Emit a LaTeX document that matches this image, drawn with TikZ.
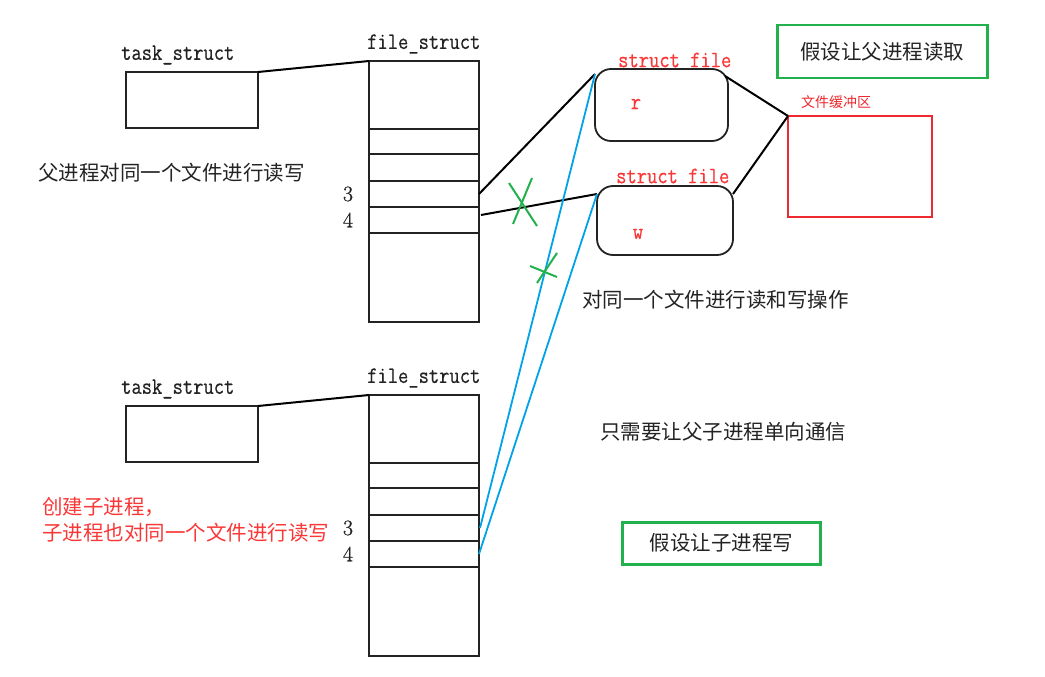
\documentclass[tikz,border=0pt]{standalone}
\usepackage{fontspec}
\newfontfamily\cjk{Noto Sans CJK SC}
\newfontfamily\monof{Latin Modern Mono}[FakeStretch=0.85, FakeBold=0.5]
\newfontfamily\numf{Latin Modern Roman}[FakeBold=0.8]
\usetikzlibrary{calc}
\definecolor{pgreen}{RGB}{34,177,76}
\definecolor{pblue}{RGB}{0,162,232}
\definecolor{pred}{RGB}{237,40,46}
\definecolor{tred}{RGB}{250,55,55}
\definecolor{ink}{RGB}{35,35,35}
\newcommand\fstruct[2]{%
  \node[box, minimum width=110, minimum height=68] (#1a) at (369,#2) {};
  \node[box, minimum width=110, minimum height=25] (#1b) at (369,{#2+68}) {};
  \node[box, minimum width=110, minimum height=27] (#1c) at (369,{#2+93}) {};
  \node[box, minimum width=110, minimum height=26] (#1d) at (369,{#2+120}) {};
  \node[box, minimum width=110, minimum height=26] (#1e) at (369,{#2+146}) {};
  \node[box, minimum width=110, minimum height=89] (#1f) at (369,{#2+172}) {};
  \node[num] (#1n3) at (348,{#2+133}) {3};
  \node[num] (#1n4) at (348,{#2+159}) {4};
  \node[mono, anchor=west] (#1lab) at (367,{#2-17}) {file\_struct};
}
\begin{document}
\begin{tikzpicture}[x=1pt,y=-1pt,
  box/.style={draw=ink, line width=1.3pt, inner sep=0pt, outer sep=0pt, anchor=north west},
  conn/.style={line width=2pt, black},
  bluel/.style={pblue, line width=1.8pt},
  cross/.style={pgreen, line width=2pt},
  cjkt/.style={font=\cjk\fontsize{20.5}{24}\selectfont, text=ink, inner sep=0pt},
  mono/.style={font=\monof\fontsize{23.5}{26}\selectfont, text=ink, inner sep=0pt},
  num/.style={font=\numf\fontsize{22}{24}\selectfont, text=ink, inner sep=0pt},
  gbox/.style={draw=pgreen, line width=2.5pt, inner sep=0pt, anchor=north west, font=\cjk\fontsize{20.5}{24}\selectfont, text=ink},
  sfbox/.style={draw=ink, line width=1.8pt, rounded corners=16pt, inner sep=0pt, outer sep=0pt, anchor=north west}
]
\useasboundingbox (0,0) rectangle (1045,677);
\fill[white] (0,0) rectangle (1045,677);

% task_struct boxes
\node[box, minimum width=132, minimum height=56] (ts1) at (126,72) {};
\node[mono, anchor=west] (ts1lab) at (121,55) {task\_struct};
\node[box, minimum width=132, minimum height=56] (ts2) at (126,406) {};
\node[mono, anchor=west] (ts2lab) at (121,389) {task\_struct};

% file_struct tables
\fstruct{fs1}{61}
\fstruct{fs2}{395}

% struct file boxes
\node[sfbox, minimum width=133, minimum height=72] (sf1) at (595,69) {};
\node[mono, text=tred, anchor=west] (sf1lab) at (618,60) {struct file};
\node[mono, text=tred] (rr) at (636,104) {r};
\node[sfbox, minimum width=136, minimum height=69] (sf2) at (597,186) {};
\node[mono, text=tred, anchor=west] (sf2lab) at (616,176) {struct file};
\node[mono, text=tred] (ww) at (638,234) {w};

% file buffer
\node[draw=pred, line width=1.6pt, inner sep=0pt, outer sep=0pt, anchor=north west, minimum width=144, minimum height=101] (buf) at (788,116) {};
\node[font=\cjk\fontsize{14}{16}\selectfont, text=pred, anchor=west, inner sep=0pt] (buflab) at (801,102) {文件缓冲区};

% green boxes
\node[gbox, minimum width=210, minimum height=53] (g1) at (776,24) {假设让父进程读取};
\node[gbox, minimum width=198, minimum height=42] (g2) at (621,521) {假设让子进程写};

% texts
\node[cjkt, anchor=west] (t1) at (38,173) {父进程对同一个文件进行读写};
\node[cjkt, anchor=west] (t2) at (582,300) {对同一个文件进行读和写操作};
\node[cjkt, anchor=west] (t3) at (600,432) {只需要让父子进程单向通信};
\node[cjkt, text=tred, anchor=west, align=left, font=\cjk\fontsize{20.5}{26}\selectfont] (t4) at (42,520) {创建子进程，\\子进程也对同一个文件进行读写};

% connectors
\draw[conn] (ts1.north east) -- (fs1a.north west);
\draw[conn] (ts2.north east) -- (fs2a.north west);
\draw[conn] (fs1d.east) -- ([yshift=-5pt]sf1.north west);
\draw[conn] ([xshift=2pt,yshift=5pt]fs1e.east) -- ([yshift=-8pt]sf2.north west);
\draw[conn] ([xshift=-3pt,yshift=-7pt]sf1.north east) -- (buf.north west);
\draw[conn] ([yshift=-8pt]sf2.north east) -- (buf.north west);
\draw[bluel] ([yshift=-5pt]sf1.north west) -- ([xshift=1pt]fs2d.east);
\draw[bluel] ([yshift=-8pt]sf2.north west) -- (fs2e.east);

% green crosses
\draw[cross] (509,183) -- (537,226);
\draw[cross] (532,178) -- (513,224);
\draw[cross] (530,266) -- (557,277);
\draw[cross] (557,253) -- (537,283);
\end{tikzpicture}
\end{document}
